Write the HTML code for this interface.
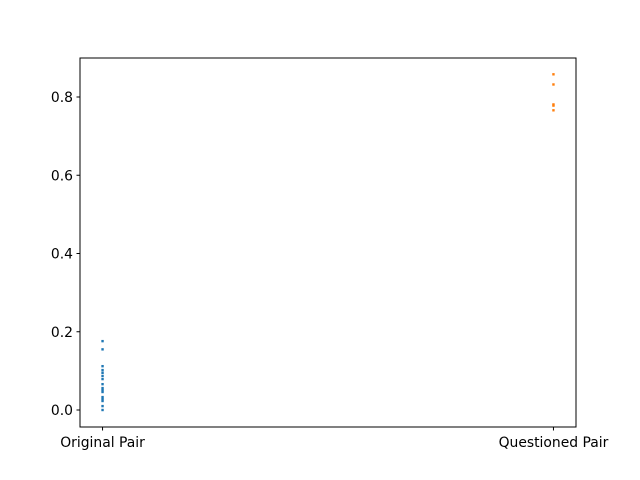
<!DOCTYPE html>
<html><head><meta charset="utf-8"><style>body{margin:0;background:#fff}svg{display:block;font-family:"DejaVu Sans","Liberation Sans",sans-serif}</style></head>
<body>
<svg id="chart" width="640" height="480">
<rect width="640" height="480" fill="#fff"/>
<g id="marks"></g>
<rect x="80" y="58" width="496" height="369" fill="none" stroke="#000" stroke-width="1"/>
<g id="axes"></g>
</svg>
<script>
const categories = ["Original Pair", "Questioned Pair"];
const originalValues = [0.176, 0.155, 0.112, 0.102, 0.095, 0.087, 0.079, 0.066, 0.056, 0.051, 0.046, 0.033, 0.028, 0.023, 0.010, 0.0];
const questionedValues = [0.858, 0.832, 0.781, 0.778, 0.766];
const yTicks = [0.0, 0.2, 0.4, 0.6, 0.8];
const yTickLabels = ["0.0", "0.2", "0.4", "0.6", "0.8"];
const colors = ["#1f77b4", "#ff7f0e"];

const NS = "http://www.w3.org/2000/svg";
const L = 80, R = 576, T = 58, B = 427;
const xScale = i => L + (R - L) * (i + 0.05) / 1.1;
const yScale = v => 410 - v * 391.25;
function mk(tag, attrs, parent) {
  const e = document.createElementNS(NS, tag);
  for (const k in attrs) e.setAttribute(k, attrs[k]);
  parent.appendChild(e);
  return e;
}
const marks = document.getElementById("marks");
const axes = document.getElementById("axes");
[originalValues, questionedValues].forEach((series, si) => {
  series.forEach(v => {
    const r = mk("rect", {x: xScale(si) - 1.2, y: yScale(v) - 1.2, width: 2.4, height: 2.4, fill: colors[si]}, marks);
    
    
  });
});
yTicks.forEach((t, i) => {
  const y = yScale(t);
  const ln = mk("line", {x1: L - 3.5, x2: L, y1: y, y2: y, stroke: "#000"}, axes);
  
  
  const tx = mk("text", {x: L - 7, y: y + 5, "text-anchor": "end", "font-size": 13.9}, axes);
  tx.textContent = yTickLabels[i];
  
  
});
categories.forEach((c, i) => {
  const x = xScale(i);
  const ln = mk("line", {x1: x, x2: x, y1: B, y2: B + 3.5, stroke: "#000"}, axes);
  
  
  const tx = mk("text", {x: x, y: B + 20, "text-anchor": "middle", "font-size": 13.9}, axes);
  tx.textContent = c;
  
  
});
</script>
</body></html>
